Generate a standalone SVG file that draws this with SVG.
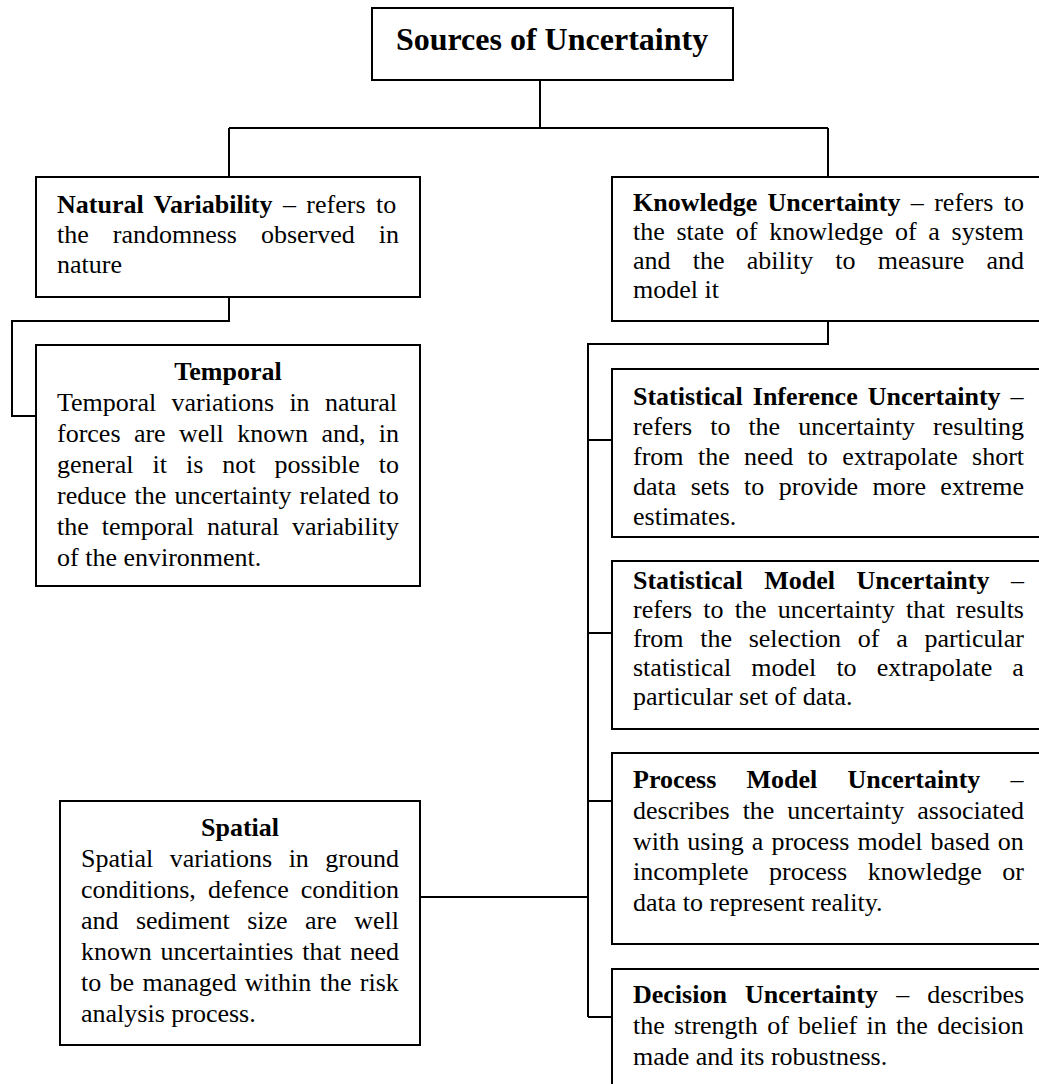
<svg xmlns="http://www.w3.org/2000/svg" width="1039" height="1084" viewBox="0 0 1039 1084">
  <style>
    .box { fill: #ffffff; stroke: #000000; stroke-width: 2; }
    .wire { fill: none; stroke: #000000; stroke-width: 2; }
    text { font-family: "Liberation Serif", "Times New Roman", serif; font-size: 26px; fill: #000000; }
    .b { font-weight: bold; }
    .title { font-size: 32px; font-weight: bold; }
  </style>
  <rect x="0" y="0" width="1039" height="1084" fill="#ffffff"/>

  <!-- connectors -->
  <g id="connectors">
    <path class="wire" d="M540 80 V128"/>
    <path class="wire" d="M229 128 H828"/>
    <path class="wire" d="M229 128 V177"/>
    <path class="wire" d="M828 128 V177"/>
    <path class="wire" d="M229 297 V321 H12 V416 H36"/>
    <path class="wire" d="M828 321 V344 H588 V1017"/>
    <path class="wire" d="M588 440 H612"/>
    <path class="wire" d="M588 633 H612"/>
    <path class="wire" d="M588 801 H612"/>
    <path class="wire" d="M588 1017 H612"/>
    <path class="wire" d="M420 897 H588"/>
  </g>

  <!-- root -->
  <g id="sources">
    <rect class="box" x="372" y="8" width="361" height="72"/>
    <text class="title" x="552" y="50" text-anchor="middle">Sources of Uncertainty</text>
  </g>

  <!-- left branch -->
  <g id="natural-variability">
    <rect class="box" x="36" y="177" width="384" height="120"/>
    <text x="57" y="213" word-spacing="3.9"><tspan class="b">Natural Variability</tspan> – refers to</text>
    <text x="57" y="243" word-spacing="17.5">the randomness observed in</text>
    <text x="57" y="273">nature</text>
  </g>

  <g id="temporal">
    <rect class="box" x="36" y="345" width="384" height="241"/>
    <text class="b" x="228" y="380" text-anchor="middle">Temporal</text>
    <text x="57" y="411" word-spacing="8.8">Temporal variations in natural</text>
    <text x="57" y="442" word-spacing="6.9">forces are well known and, in</text>
    <text x="57" y="473" word-spacing="12.5">general it is not possible to</text>
    <text x="57" y="504" word-spacing="1.7">reduce the uncertainty related to</text>
    <text x="57" y="535" word-spacing="6.4">the temporal natural variability</text>
    <text x="57" y="566">of the environment.</text>
  </g>

  <g id="spatial">
    <rect class="box" x="60" y="801" width="360" height="244"/>
    <text class="b" x="240" y="836" text-anchor="middle">Spatial</text>
    <text x="81" y="867" word-spacing="9.95">Spatial variations in ground</text>
    <text x="81" y="898" word-spacing="5.55">conditions, defence condition</text>
    <text x="81" y="929" word-spacing="10.9">and sediment size are well</text>
    <text x="81" y="960" word-spacing="2.3">known uncertainties that need</text>
    <text x="81" y="991" word-spacing="1.9">to be managed within the risk</text>
    <text x="81" y="1022">analysis process.</text>
  </g>

  <!-- right branch -->
  <g id="knowledge-uncertainty">
    <rect class="box" x="612" y="177" width="450" height="144"/>
    <text x="633" y="211" word-spacing="3.87"><tspan class="b">Knowledge Uncertainty</tspan> – refers to</text>
    <text x="633" y="240" word-spacing="5.2">the state of knowledge of a system</text>
    <text x="633" y="269" word-spacing="15.7">and the ability to measure and</text>
    <text x="633" y="298">model it</text>
  </g>

  <g id="statistical-inference">
    <rect class="box" x="612" y="369" width="450" height="168"/>
    <text x="633" y="405" word-spacing="3.5"><tspan class="b">Statistical Inference Uncertainty</tspan> –</text>
    <text x="633" y="435" word-spacing="11.5">refers to the uncertainty resulting</text>
    <text x="633" y="465" word-spacing="7.9">from the need to extrapolate short</text>
    <text x="633" y="495" word-spacing="7.9">data sets to provide more extreme</text>
    <text x="633" y="525">estimates.</text>
  </g>

  <g id="statistical-model">
    <rect class="box" x="612" y="561" width="450" height="168"/>
    <text x="633" y="589" word-spacing="15"><tspan class="b">Statistical Model Uncertainty</tspan> –</text>
    <text x="633" y="618" word-spacing="4.7">refers to the uncertainty that results</text>
    <text x="633" y="647" word-spacing="10.2">from the selection of a particular</text>
    <text x="633" y="676" word-spacing="13.6">statistical model to extrapolate a</text>
    <text x="633" y="705">particular set of data.</text>
  </g>

  <g id="process-model">
    <rect class="box" x="612" y="753" width="450" height="191"/>
    <text x="633" y="788" word-spacing="23.7"><tspan class="b">Process Model Uncertainty</tspan> –</text>
    <text x="633" y="819" word-spacing="6.4">describes the uncertainty associated</text>
    <text x="633" y="850" word-spacing="1.6">with using a process model based on</text>
    <text x="633" y="880" word-spacing="14.1">incomplete process knowledge or</text>
    <text x="633" y="911">data to represent reality.</text>
  </g>

  <g id="decision">
    <rect class="box" x="612" y="969" width="450" height="200"/>
    <text x="633" y="1003" word-spacing="11.7"><tspan class="b">Decision Uncertainty</tspan> – describes</text>
    <text x="633" y="1034" word-spacing="2.8">the strength of belief in the decision</text>
    <text x="633" y="1065">made and its robustness.</text>
  </g>
</svg>
